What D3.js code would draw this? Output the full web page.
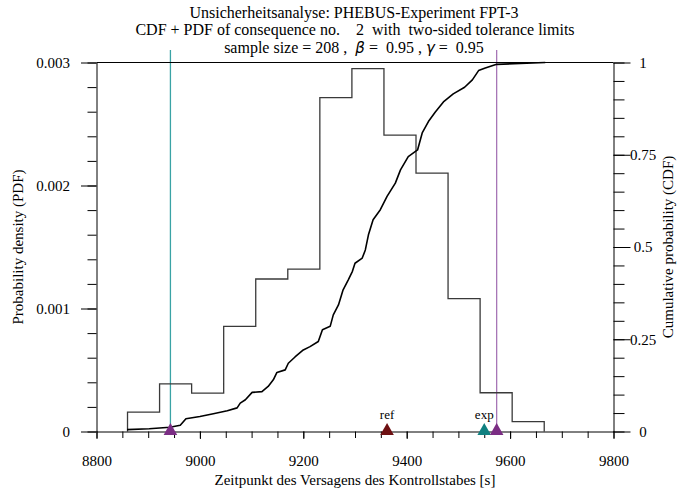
<!DOCTYPE html>
<html>
<head>
<meta charset="utf-8">
<script src="https://cdn.jsdelivr.net/npm/d3@7/dist/d3.min.js"></script>
<style>
  html, body { margin: 0; padding: 0; background: #fff; }
  svg { display: block; }
  text { font-family: "Liberation Serif", "Times New Roman", serif; fill: #000; }
  .pre { white-space: pre; }
</style>
</head>
<body>
<svg id="chart" width="683" height="490"></svg>
<script>
// ---------------- data ----------------
const titleLines = [
  "Unsicherheitsanalyse: PHEBUS-Experiment FPT-3",
  "CDF + PDF of consequence no.    2  with  two-sided tolerance limits"
];
const xLabel = "Zeitpunkt des Versagens des Kontrollstabes [s]";
const yLeftLabel = "Probability density (PDF)";
const yRightLabel = "Cumulative probability (CDF)";

const xDomain = [8800, 9800];
const xMajorTicks = [8800, 9000, 9200, 9400, 9600, 9800];
const xMinorStep = 50;
const pdfDomain = [0, 0.003];
const pdfMajorTicks = [0, 0.001, 0.002, 0.003];
const pdfMinorStep = 0.0002;
const cdfMajorTicks = [0, 0.25, 0.5, 0.75, 1];
const cdfTickLabels = ["0", "0.25", "0.5", "0.75", "1"];
const cdfMinorStep = 0.05;

// histogram (PDF) bin edges and densities
const binEdges = [8860, 8922, 8984, 9046, 9108, 9170, 9232, 9294, 9356, 9418, 9480, 9542, 9604, 9666];
const binDensity = [0.000158, 0.000388, 0.000312, 0.000854, 0.00124, 0.00132, 0.002715,
                    0.00295, 0.00241, 0.0021, 0.00108, 0.000315, 0.00008];

const cdfX = [8859, 8902, 8942, 8962, 8973, 9000, 9026, 9053, 9072, 9078, 9088, 9101, 9120,
              9132, 9142, 9149, 9165, 9171, 9184, 9200, 9213, 9229, 9237, 9252, 9258, 9268,
              9277, 9287, 9295, 9300, 9314, 9320, 9326, 9335, 9349, 9362, 9378, 9388, 9403,
              9421, 9430, 9442, 9455, 9471, 9490, 9512, 9527, 9539, 9552, 9574, 9668];
const cdfP = [0.005, 0.0073, 0.0114, 0.0168, 0.0344, 0.0407, 0.048, 0.056, 0.064, 0.077, 0.086,
              0.106, 0.108, 0.122, 0.140, 0.160, 0.167, 0.185, 0.202, 0.221, 0.230, 0.244,
              0.276, 0.285, 0.316, 0.343, 0.384, 0.411, 0.434, 0.456, 0.470, 0.492, 0.533,
              0.574, 0.601, 0.637, 0.673, 0.709, 0.745, 0.763, 0.809, 0.840, 0.865, 0.893,
              0.915, 0.933, 0.953, 0.978, 0.985, 0.995, 1.0];

// tolerance limits (vertical lines) and markers on the axis
const limitValues = [8943, 9574];
const limitColors = ["#3aa3a5", "#a775b6"];
const markerValues = [8943, 9362, 9550, 9574];
const markerLabels = ["", "ref", "exp", ""];
const markerColors = ["#7b2d84", "#6e1012", "#108080", "#7b2d84"];

// ---------------- layout ----------------
const L = 96.5, R = 613.5, T = 62.5, B = 431.5;
const svg = d3.select("#chart");

const x = d3.scaleLinear().domain(xDomain).range([L, R]);
const yPdf = d3.scaleLinear().domain(pdfDomain).range([B, T]);
const yCdf = d3.scaleLinear().domain([0, 1]).range([B, T]);

// ---------------- titles ----------------
const tg = svg.append("g").attr("text-anchor", "middle");
tg.append("text").attr("class", "pre").attr("x", 354).attr("y", 17.5)
  .style("font-size", "16px").text(titleLines[0]);
tg.append("text").attr("class", "pre").attr("x", 355).attr("y", 35.2)
  .style("font-size", "16px").text(titleLines[1]);
const t3 = tg.append("text").attr("class", "pre").attr("x", 354).attr("y", 53.2)
  .style("font-size", "16px");
t3.append("tspan").text("sample size = 208 ,  ");
t3.append("tspan").style("font-family", "'DejaVu Sans', sans-serif").style("font-style", "italic").style("font-size", "15px").text("β");
t3.append("tspan").text(" =  0.95 , ");
t3.append("tspan").style("font-family", "'DejaVu Sans', sans-serif").style("font-style", "italic").style("font-size", "15px").text("γ");
t3.append("tspan").text(" =  0.95");

// ---------------- tolerance limit lines ----------------
svg.append("g").selectAll("line").data(limitValues).join("line")
  .attr("x1", d => x(d)).attr("x2", d => x(d))
  .attr("y1", 50).attr("y2", B)
  .attr("stroke", (d, i) => limitColors[i]).attr("stroke-width", 1.3);

// ---------------- histogram ----------------
const histPts = [[binEdges[0], 0]];
binDensity.forEach((d, i) => { histPts.push([binEdges[i], d]); histPts.push([binEdges[i + 1], d]); });
histPts.push([binEdges[binEdges.length - 1], 0]);
svg.append("path")
  .attr("d", d3.line().x(d => x(d[0])).y(d => yPdf(d[1]))(histPts))
  .attr("fill", "none").attr("stroke", "#3a3a3a").attr("stroke-width", 1.3);

// ---------------- CDF ----------------
const cdfPts = cdfX.map((v, i) => [v, cdfP[i]]);
svg.append("path")
  .attr("d", d3.line().x(d => x(d[0])).y(d => yCdf(d[1])).curve(d3.curveLinear)(cdfPts))
  .attr("fill", "none").attr("stroke", "#000").attr("stroke-width", 1.6)
  .attr("stroke-linejoin", "round");

// ---------------- axes ----------------
function styleAxis(g) {
  g.selectAll("path.domain").attr("stroke", "#000").attr("stroke-width", 1);
  g.selectAll(".tick line").attr("stroke", "#000").attr("stroke-width", 1);
  g.selectAll("text").style("font-family", "'Liberation Serif', serif").style("font-size", "15px").attr("fill", "#000");
}
const xMinor = d3.range(xDomain[0], xDomain[1] + 1, xMinorStep);
svg.append("g").attr("transform", `translate(0,${B})`)
  .call(d3.axisBottom(x).tickValues(xMinor).tickSize(6.5).tickFormat("").tickSizeOuter(0))
  .call(styleAxis);
svg.append("g").attr("transform", `translate(0,${B})`)
  .call(d3.axisBottom(x).tickValues(xMajorTicks).tickSize(7.5).tickPadding(16).tickFormat(d3.format("d")).tickSizeOuter(0))
  .call(styleAxis).call(g => g.select(".domain").remove());

const pdfMinor = d3.range(0, 0.00301, pdfMinorStep);
svg.append("g").attr("transform", `translate(${L},0)`)
  .call(d3.axisLeft(yPdf).tickValues(pdfMinor).tickSize(9).tickFormat("").tickSizeOuter(0))
  .call(styleAxis);
svg.append("g").attr("transform", `translate(${L},0)`)
  .call(d3.axisLeft(yPdf).tickValues(pdfMajorTicks).tickSize(15.5).tickPadding(11)
        .tickFormat(d => d === 0 ? "0" : d3.format(".3f")(d)).tickSizeOuter(0))
  .call(styleAxis).call(g => g.select(".domain").remove());

const cdfMinor = d3.range(0, 1.0001, cdfMinorStep);
svg.append("g").attr("transform", `translate(${R},0)`)
  .call(d3.axisRight(yCdf).tickValues(cdfMinor).tickSize(11).tickFormat("").tickSizeOuter(0))
  .call(styleAxis);
const rAx = svg.append("g").attr("transform", `translate(${R},0)`)
  .call(d3.axisRight(yCdf).tickValues(cdfMajorTicks).tickSize(17).tickPadding(12)
        .tickFormat((d, i) => cdfTickLabels[i]).tickSizeOuter(0))
  .call(styleAxis).call(g => g.select(".domain").remove());
rAx.selectAll("text").attr("text-anchor", "middle").attr("x", 29.5);

// top frame line
svg.append("line").attr("x1", L).attr("x2", R).attr("y1", T).attr("y2", T)
  .attr("stroke", "#000").attr("stroke-width", 1);

// ---------------- markers ----------------
const triPath = "M0,-8.5L6.8,3.5L-6.8,3.5Z";
const mg = svg.append("g");
mg.selectAll("path").data(markerValues).join("path")
  .attr("d", triPath)
  .attr("transform", d => `translate(${x(d)},${B})`)
  .attr("fill", (d, i) => markerColors[i]);
mg.selectAll("text").data(markerValues).join("text")
  .attr("x", d => x(d)).attr("y", 418.5)
  .attr("text-anchor", "middle").style("font-size", "13px")
  .text((d, i) => markerLabels[i]);

// ---------------- axis titles ----------------
svg.append("text").attr("x", (L + R) / 2).attr("y", 484.5).attr("text-anchor", "middle")
  .style("font-size", "15px").text(xLabel);
svg.append("text").attr("transform", `translate(22.5,${(T + B) / 2}) rotate(-90)`)
  .attr("text-anchor", "middle").style("font-size", "15px").text(yLeftLabel);
svg.append("text").attr("transform", `translate(673,${(T + B) / 2}) rotate(-90)`)
  .attr("text-anchor", "middle").style("font-size", "15px").text(yRightLabel);
</script>
</body>
</html>
